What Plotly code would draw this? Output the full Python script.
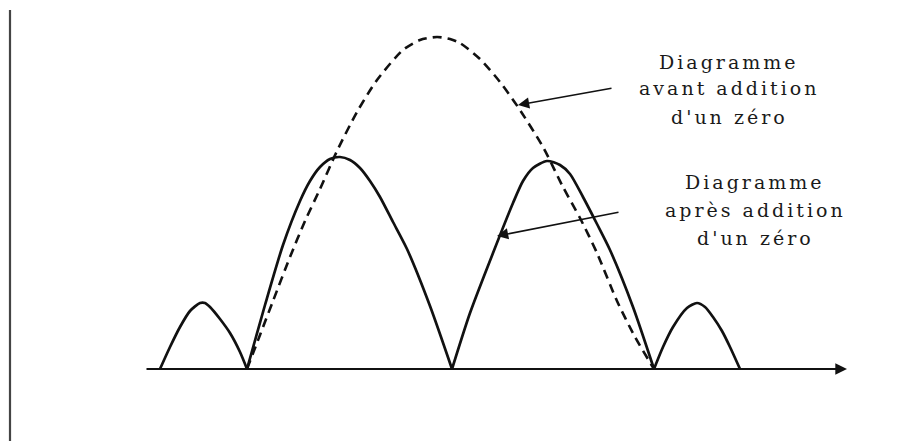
import plotly.graph_objects as go

# Solid pattern (after adding a zero) - horizontal position, height above baseline
x_solid = [160, 170, 180, 190, 200, 205, 210, 220, 230, 240, 247,
           265, 283, 300, 310, 320, 330, 340, 350, 360, 370, 380, 393, 407, 430, 452,
           470, 493, 513, 523, 533, 547, 560, 570, 583, 597, 610, 633, 654,
           663, 673, 687, 697, 705, 713, 722, 730, 740]
y_solid = [0, 22, 42, 58, 66, 66, 62, 50, 36, 17, 0,
           64, 124, 168, 188, 202, 210, 212, 209, 201, 188, 172, 147, 120, 63, 0,
           56, 116, 166, 188, 201, 208, 204, 195, 172, 145, 119, 62, 0,
           22, 42, 61, 66, 62, 52, 38, 22, 0]

# Dashed pattern (before adding a zero)
x_dash = [247, 260, 273, 290, 305, 320, 337, 357, 377, 403, 420, 437,
          450, 460, 480, 500, 518, 543, 563, 580, 597, 617, 635, 654]
y_dash = [0, 34, 68, 112, 148, 180, 218, 257, 289, 319, 329, 332,
          330, 326, 310, 287, 262, 222, 182, 151, 116, 68, 32, 0]

# Labels
label_avant = ["Diagramme", "avant addition", "d'un zéro"]
label_apres = ["Diagramme", "après addition", "d'un zéro"]

INK = "#111111"

def lobes(xs, ys):
    """Split a pattern at its nulls so each lobe keeps a sharp V at the zeros."""
    out, start = [], 0
    for i in range(1, len(xs)):
        if ys[i] == 0:
            out.append((xs[start:i + 1], ys[start:i + 1]))
            start = i
    return out

fig = go.Figure()
for lx, ly in lobes(x_dash, y_dash):
    fig.add_trace(go.Scatter(x=lx, y=ly, mode="lines", line_shape="spline",
                             line=dict(color=INK, width=2.6, dash="9px,6px", smoothing=0.7),
                             hoverinfo="skip", showlegend=False))
for lx, ly in lobes(x_solid, y_solid):
    fig.add_trace(go.Scatter(x=lx, y=ly, mode="lines", line_shape="spline",
                             line=dict(color=INK, width=2.7, smoothing=0.7),
                             hoverinfo="skip", showlegend=False))

# baseline axis with arrow
fig.add_annotation(x=847, y=0, ax=145, ay=0, xref="x", yref="y", axref="x", ayref="y",
                   text="", showarrow=True, arrowhead=2, arrowsize=1.3,
                   arrowwidth=1.8, arrowcolor=INK)
# vertical axis line
fig.add_shape(type="line", x0=10, x1=10, y0=-90, y1=359, xref="x", yref="y",
              line=dict(color="#444444", width=2.2))

# pointer arrows
fig.add_annotation(x=518, y=264, ax=613, ay=281, xref="x", yref="y", axref="x", ayref="y",
                   text="", showarrow=True, arrowhead=2, arrowsize=1.4,
                   arrowwidth=1.6, arrowcolor=INK)
fig.add_annotation(x=497, y=133, ax=620, ay=157, xref="x", yref="y", axref="x", ayref="y",
                   text="", showarrow=True, arrowhead=2, arrowsize=1.4,
                   arrowwidth=1.6, arrowcolor=INK)

def add_label(lines, xc, ys):
    for t, yy in zip(lines, ys):
        fig.add_annotation(x=xc, y=yy, xref="x", yref="y", showarrow=False,
                           text='<span style="letter-spacing:3px">' + t + '</span>',
                           xanchor="center", yanchor="middle",
                           font=dict(family="DejaVu Serif", size=19, color="#1a1a1a"))

add_label(label_avant, 729, [307, 281, 252])
add_label(label_apres, 755, [187, 159, 131])

# the page body adds an 8px offset, so the axis ranges are shifted by 8px
fig.update_layout(width=910, height=441, margin=dict(l=0, r=0, t=0, b=0),
                  paper_bgcolor="white", plot_bgcolor="white",
                  xaxis=dict(range=[8, 918], visible=False, fixedrange=True),
                  yaxis=dict(range=[-80, 361], visible=False, fixedrange=True))

fig.write_html("out.html")
